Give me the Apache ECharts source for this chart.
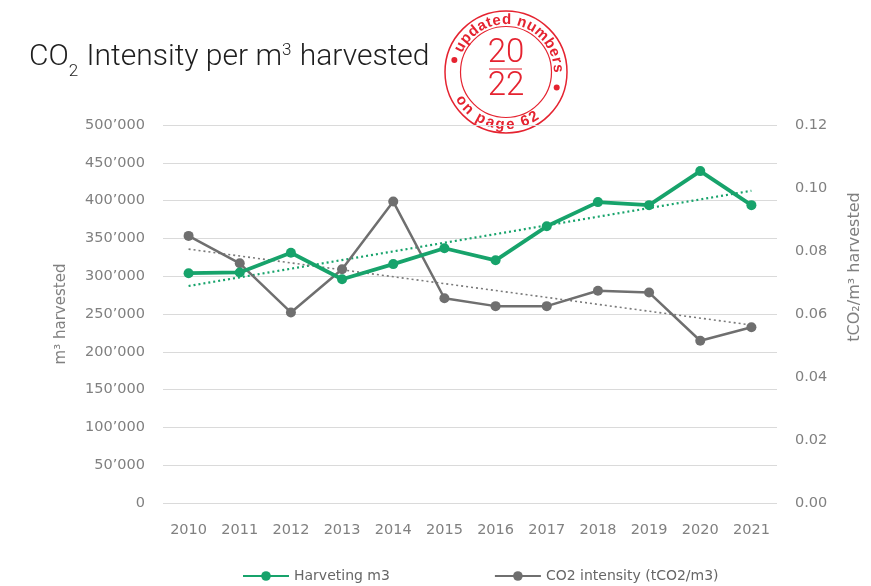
<!DOCTYPE html>
<html>
<head>
<meta charset="UTF-8">
<title>CO2 Intensity</title>
<style>
  html, body { margin: 0; padding: 0; background: #fff; }
  #main { width: 871px; height: 586px; }
</style>
</head>
<body>
<div id="main"></div>
<script src="https://cdn.jsdelivr.net/npm/echarts@6/dist/echarts.min.js"></script>
<script>
// data
var years = ['2010', '2011', '2012', '2013', '2014', '2015', '2016', '2017', '2018', '2019', '2020', '2021'];
var harvested = [304000, 305000, 331000, 296000, 316000, 337000, 321000, 366000, 398000, 394000, 439000, 394000];
var intensity = [0.0848, 0.0761, 0.0605, 0.0742, 0.0957, 0.0650, 0.0625, 0.0625, 0.0674, 0.0668, 0.0515, 0.0558];
// dotted linear trendlines, start (2010) and end (2021)
var harvestTrend = [287000, 413000];
var intensityTrend = [0.0806, 0.0565];

var GREEN = '#17a36b';
var GREY = '#6f6f6f';
var RED = '#e52330';
var LABEL = '#808080';

var myChart = echarts.init(document.getElementById('main'));
var ctx = document.createElement('canvas').getContext('2d');

function textWidth(str, font) {
    ctx.font = font;
    return ctx.measureText(str).width;
}

// title with sub/superscript, laid out piece by piece
function titleParts() {
    var big = '300 30px Roboto';
    var small = '300 17px Roboto';
    var parts = [
        { t: 'CO', f: big, dy: 0 },
        { t: '2', f: small, dy: 15 },
        { t: ' Intensity per m', f: big, dy: 0 },
        { t: '3', f: small, dy: -6 },
        { t: ' harvested', f: big, dy: 0 }
    ];
    var x = 29, base = 57;
    return parts.map(function (p) {
        var el = {
            type: 'text', x: x, y: base + p.dy,
            style: { text: p.t, fill: '#1e1e1e', font: p.f, align: 'left', verticalAlign: 'middle' }
        };
        x += textWidth(p.t, p.f) + (p.f === small ? 1 : 0);
        return el;
    });
}

// stamp "updated numbers 20/22 on page 62"
var sx = 506, sy = 72;

function arcText(str, r, centerDeg, bottom, font, spacing) {
    ctx.font = font;
    var chars = str.split('');
    var widths = chars.map(function (c) { return ctx.measureText(c).width + spacing; });
    var total = widths.reduce(function (a, b) { return a + b; }, 0);
    var acc = 0;
    var out = [];
    chars.forEach(function (c, i) {
        var s = acc + widths[i] / 2 - total / 2;
        acc += widths[i];
        var deg = bottom ? centerDeg - s / r * 180 / Math.PI : centerDeg + s / r * 180 / Math.PI;
        var rad = deg * Math.PI / 180;
        out.push({
            type: 'text',
            x: sx + r * Math.cos(rad),
            y: sy + r * Math.sin(rad),
            rotation: bottom ? (90 - deg) * Math.PI / 180 : -(deg + 90) * Math.PI / 180,
            style: { text: c, fill: RED, font: font, align: 'center', verticalAlign: 'middle' }
        });
    });
    return out;
}

function dot(deg) {
    var rad = deg * Math.PI / 180;
    return {
        type: 'circle',
        shape: { cx: sx + 53 * Math.cos(rad), cy: sy + 53 * Math.sin(rad), r: 3 },
        style: { fill: RED }
    };
}

var stampFont = 'bold 15px "Liberation Sans"';
var digitFont = '300 33px Roboto';
var stamp = [
    { type: 'circle', shape: { cx: sx, cy: sy, r: 61 }, style: { fill: 'rgba(255,255,255,0.6)', stroke: RED, lineWidth: 1.5 } },
    { type: 'circle', shape: { cx: sx, cy: sy, r: 45.5 }, style: { fill: 'none', stroke: RED, lineWidth: 1.2 } },
    { type: 'text', x: sx, y: 54, style: { text: '20', fill: RED, font: digitFont, align: 'center', verticalAlign: 'middle' } },
    { type: 'line', shape: { x1: sx - 17, y1: 69, x2: sx + 16, y2: 69 }, style: { stroke: RED, lineWidth: 1.2 } },
    { type: 'text', x: sx, y: 87, style: { text: '22', fill: RED, font: digitFont, align: 'center', verticalAlign: 'middle' } },
    dot(193),
    dot(17)
].concat(arcText('updated numbers', 52, -78, false, stampFont, 1.2))
 .concat(arcText('on page 62', 53, 103, true, stampFont, 1.4));

var option = {
    backgroundColor: '#ffffff',
    animation: false,
    textStyle: { fontFamily: 'DejaVu Sans' },
    legend: {
        data: ['Harveting m3', 'CO2 intensity (tCO2/m3)'],
        left: 237,
        top: 564,
        itemWidth: 46,
        itemHeight: 12,
        itemGap: 104,
        textStyle: { color: '#666', fontSize: 14, fontFamily: 'DejaVu Sans' }
    },
    grid: { left: 163, right: 82, top: 125, bottom: 83 },
    xAxis: {
        type: 'category',
        data: years,
        axisLine: { show: false },
        axisTick: { show: false },
        axisLabel: { color: LABEL, fontSize: 14.5, margin: 20 }
    },
    yAxis: [{
        type: 'value',
        min: 0,
        max: 500000,
        interval: 50000,
        name: 'm³ harvested',
        nameLocation: 'middle',
        nameRotate: 90,
        nameGap: 94,
        nameTextStyle: { color: LABEL, fontSize: 15 },
        axisLabel: {
            color: LABEL,
            fontSize: 14.5,
            margin: 18,
            formatter: function (v) {
                return v === 0 ? '0' : String(v).replace(/\B(?=(\d{3})+(?!\d))/g, '’');
            }
        },
        axisLine: { show: false },
        axisTick: { show: false },
        splitLine: { lineStyle: { color: '#dadada', width: 1 } }
    }, {
        type: 'value',
        min: 0,
        max: 0.12,
        interval: 0.02,
        name: 'tCO₂/m³ harvested',
        nameLocation: 'middle',
        nameRotate: 90,
        nameGap: 70,
        nameTextStyle: { color: LABEL, fontSize: 16, padding: [0, 0, 0, 94] },
        axisLabel: {
            color: LABEL,
            fontSize: 14.5,
            margin: 18,
            formatter: function (v) { return v.toFixed(2); }
        },
        axisLine: { show: false },
        axisTick: { show: false },
        splitLine: { show: false }
    }],
    graphic: titleParts().concat(stamp),
    series: [{
        name: 'Harveting m3',
        type: 'line',
        yAxisIndex: 0,
        data: harvested,
        symbol: 'circle',
        symbolSize: 10,
        lineStyle: { color: GREEN, width: 3.8 },
        itemStyle: { color: GREEN },
        z: 4
    }, {
        name: 'CO2 intensity (tCO2/m3)',
        type: 'line',
        yAxisIndex: 1,
        data: intensity,
        symbol: 'circle',
        symbolSize: 10,
        lineStyle: { color: GREY, width: 2.5 },
        itemStyle: { color: GREY },
        z: 3
    }, {
        name: 'harvest trend',
        type: 'line',
        yAxisIndex: 0,
        data: [[years[0], harvestTrend[0]], [years[years.length - 1], harvestTrend[1]]],
        symbol: 'none',
        lineStyle: { color: GREEN, width: 2.2, type: [2, 3] },
        z: 2
    }, {
        name: 'intensity trend',
        type: 'line',
        yAxisIndex: 1,
        data: [[years[0], intensityTrend[0]], [years[years.length - 1], intensityTrend[1]]],
        symbol: 'none',
        lineStyle: { color: '#7a7a7a', width: 1.6, type: [2, 3] },
        z: 2
    }]
};
myChart.setOption(option);
</script>
</body>
</html>
